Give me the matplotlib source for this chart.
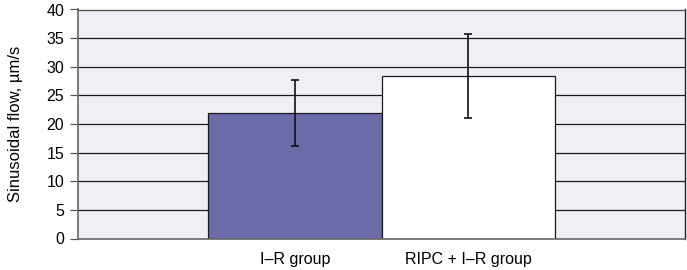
import numpy as np
import matplotlib
matplotlib.use("Agg")
import matplotlib.pyplot as plt

plt.rcParams['font.family'] = ['Liberation Sans', 'DejaVu Sans']

groups = ['I\u2013R group', 'RIPC + I\u2013R group']
flow = [21.9, 28.4]
err_low = [16.2, 21.1]
err_high = [27.7, 35.8]
bar_colors = ['#6B6BA8', '#FFFFFF']
yticks = [0, 5, 10, 15, 20, 25, 30, 35, 40]

fig = plt.figure(figsize=(6.87, 2.70), dpi=100)
ax = fig.add_axes([78 / 687, 31.5 / 270, 607 / 687, 229 / 270])
ax.set_facecolor('#F0EFF5')

x = np.array([-0.5, 0.5])
flow = np.array(flow)
yerr = np.array([flow - np.array(err_low), np.array(err_high) - flow])

# gridlines
for t in yticks[1:]:
    ax.axhline(t, color='#1a1a1a', lw=0.9, zorder=1)

ax.bar(x, flow, width=1.0, color=bar_colors, edgecolor='#1a1a1a', linewidth=0.9, zorder=2)
ax.errorbar(x, flow, yerr=yerr, fmt='none', ecolor='#111111', elinewidth=1.2,
            capsize=3, capthick=1.2, zorder=3)

ax.set_xlim(-1.75, 1.75)
ax.set_ylim(0, 40)
ax.set_yticks(yticks)
ax.set_yticklabels([str(t) for t in yticks], fontsize=11.5)
ax.set_xticks(x)
ax.set_xticklabels(groups, fontsize=11.5)
ax.tick_params(axis='x', length=0, pad=10)
ax.tick_params(axis='y', length=6, width=0.9, color='#555555', pad=4)

for side in ['left', 'bottom']:
    ax.spines[side].set_color('#666666')
    ax.spines[side].set_linewidth(1.2)
ax.spines['top'].set_color('#555555')
ax.spines['top'].set_linewidth(1.0)
ax.spines['right'].set_color('#222222')
ax.spines['right'].set_linewidth(1.0)

ax.set_ylabel('Sinusoidal flow, \u00b5m/s', fontsize=12, labelpad=17)

fig.savefig('out.png', dpi=100)
